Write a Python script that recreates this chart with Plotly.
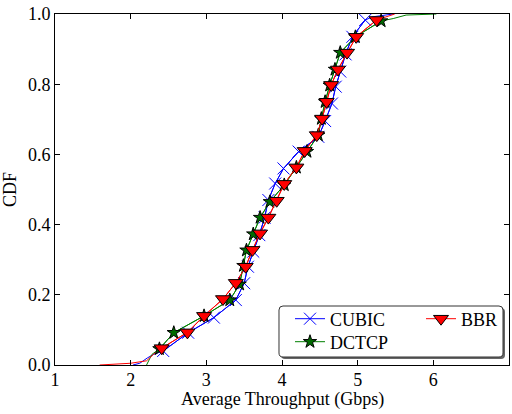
import plotly.graph_objects as go

# ---- data ----
cubic_x = [2.43, 2.76, 3.10, 3.39, 3.50, 3.55, 3.62, 3.70, 3.77, 3.82, 3.91,
           4.02, 4.22, 4.48, 4.57, 4.66, 4.71, 4.77, 4.84, 4.93, 5.10]
cubic_y = [0.040, 0.092, 0.135, 0.185, 0.233, 0.280, 0.323, 0.370, 0.420, 0.470, 0.517,
           0.560, 0.608, 0.650, 0.695, 0.745, 0.793, 0.836, 0.885, 0.935, 0.983]
cubic_lo_x = [2.03, 2.12, 2.22, 2.30]
cubic_lo_y = [0.000, 0.005, 0.020, 0.030]
cubic_hi_x = [5.20, 5.47]
cubic_hi_y = [0.992, 1.000]

dctcp_x = [2.38, 2.57, 2.97, 3.31, 3.44, 3.49, 3.53, 3.62, 3.71, 3.84, 4.03,
           4.19, 4.33, 4.48, 4.52, 4.57, 4.63, 4.70, 4.77, 4.97, 5.31]
dctcp_y = [0.046, 0.092, 0.140, 0.185, 0.230, 0.283, 0.327, 0.373, 0.420, 0.465, 0.513,
           0.563, 0.608, 0.655, 0.702, 0.750, 0.797, 0.842, 0.890, 0.935, 0.980]
dctcp_lo_x = [2.21, 2.24, 2.28]
dctcp_lo_y = [0.000, 0.015, 0.030]
dctcp_hi_x = [5.47, 5.64, 6.04]
dctcp_hi_y = [0.987, 0.997, 1.000]

bbr_x = [2.41, 2.75, 2.97, 3.22, 3.39, 3.52, 3.61, 3.71, 3.82, 3.93, 4.03,
         4.19, 4.30, 4.46, 4.53, 4.59, 4.65, 4.74, 4.86, 4.98, 5.25]
bbr_y = [0.048, 0.093, 0.140, 0.188, 0.234, 0.280, 0.328, 0.375, 0.420, 0.468, 0.516,
         0.563, 0.610, 0.655, 0.702, 0.750, 0.798, 0.842, 0.890, 0.935, 0.983]
bbr_lo_x = [1.59, 2.00, 2.21, 2.30]
bbr_lo_y = [0.000, 0.005, 0.012, 0.030]
bbr_hi_x = [5.38, 5.49]
bbr_hi_y = [0.992, 1.000]

x_ticks = [1, 2, 3, 4, 5, 6, 7]
y_ticks = [0.0, 0.2, 0.4, 0.6, 0.8, 1.0]
x_title = "Average Throughput (Gbps)"
y_title = "CDF"

FONT = "'Liberation Serif', 'Times New Roman', Times, serif"

series = [
    dict(name="CUBIC", x=cubic_x, y=cubic_y, lx=cubic_lo_x, ly=cubic_lo_y, hx=cubic_hi_x, hy=cubic_hi_y,
         color="#0000ff", marker=dict(symbol="x-thin", size=12, color="#0000ff",
                                       line=dict(color="#0000ff", width=1)), legend="legend"),
    dict(name="DCTCP", x=dctcp_x, y=dctcp_y, lx=dctcp_lo_x, ly=dctcp_lo_y, hx=dctcp_hi_x, hy=dctcp_hi_y,
         color="#008000", marker=dict(symbol="star", size=10, color="#006b00",
                                       line=dict(color="#000000", width=1)), legend="legend2"),
    dict(name="BBR", x=bbr_x, y=bbr_y, lx=bbr_lo_x, ly=bbr_lo_y, hx=bbr_hi_x, hy=bbr_hi_y,
         color="#ff0000", marker=dict(symbol="triangle-down", size=13, color="#ff0000",
                                       line=dict(color="#000000", width=1)), legend="legend3"),
]

fig = go.Figure()
for s in series:
    fig.add_trace(go.Scatter(
        x=s["lx"] + s["x"] + s["hx"], y=s["ly"] + s["y"] + s["hy"],
        mode="lines", line=dict(color=s["color"], width=1),
        showlegend=False, hoverinfo="skip"))
for s in series:
    fig.add_trace(go.Scatter(
        x=s["x"], y=s["y"], name=s["name"], mode="lines+markers",
        line=dict(color=s["color"], width=1), marker=s["marker"],
        legend=s["legend"]))

# plot area pixel geometry
L, R, T, B = 55, 3, 14, 49
W, H = 512, 414
PW, PH = W - L - R, H - T - B


def px2paper(px, py):
    return (px - L) / PW, (H - B - py) / PH


def rrect(x0, y0, x1, y1, r=4):
    # rounded rectangle path in paper coordinates, pixel inputs
    def p(x, y):
        a, b = px2paper(x, y)
        return f"{a:.5f},{b:.5f}"
    return (f"M {p(x0 + r, y0)} L {p(x1 - r, y0)} Q {p(x1, y0)} {p(x1, y0 + r)} "
            f"L {p(x1, y1 - r)} Q {p(x1, y1)} {p(x1 - r, y1)} "
            f"L {p(x0 + r, y1)} Q {p(x0, y1)} {p(x0, y1 - r)} "
            f"L {p(x0, y0 + r)} Q {p(x0, y0)} {p(x0 + r, y0)} Z")


shapes = [
    dict(type="path", xref="paper", yref="paper", path=rrect(281, 308, 505, 359),
         fillcolor="#666666", line=dict(width=0), layer="above"),
    dict(type="path", xref="paper", yref="paper", path=rrect(279, 306, 503, 357),
         fillcolor="#ffffff", line=dict(color="#333333", width=1), layer="above"),
]

leg_common = dict(bgcolor="rgba(0,0,0,0)", borderwidth=0,
                  font=dict(family=FONT, size=18, color="#000"),
                  xanchor="left", yanchor="middle")
lx1, ly1 = px2paper(290, 319)
lx2, ly2 = px2paper(290, 342)
lx3, ly3 = px2paper(421, 319)

axis_common = dict(showgrid=False, zeroline=False, showline=True, linecolor="#000",
                   linewidth=1, mirror="ticks", ticks="inside", ticklen=5,
                   tickcolor="#000", tickfont=dict(family=FONT, size=18, color="#000"))

fig.update_layout(
    width=W, height=H,
    margin=dict(l=L, r=R, t=T, b=B),
    paper_bgcolor="white", plot_bgcolor="white",
    font=dict(family=FONT, size=18, color="#000"),
    xaxis=dict(range=[1, 7], tickvals=x_ticks, ticktext=[str(v) for v in x_ticks],
               ticklabelstandoff=-2, **axis_common),
    yaxis=dict(range=[0, 1], tickvals=y_ticks, ticktext=[f"{v:.1f}" for v in y_ticks],
               title=dict(text=y_title, font=dict(family=FONT, size=18), standoff=6),
               **axis_common),
    legend=dict(x=lx1, y=ly1, **leg_common),
    legend2=dict(x=lx2, y=ly2, **leg_common),
    legend3=dict(x=lx3, y=ly3, **leg_common),
    shapes=shapes,
    annotations=[dict(text=x_title, xref="paper", yref="paper", x=0.5, y=0,
                      xanchor="center", yanchor="middle", yshift=-34, showarrow=False,
                      font=dict(family=FONT, size=18, color="#000"))],
    showlegend=True,
)

fig.write_html("out.html")
